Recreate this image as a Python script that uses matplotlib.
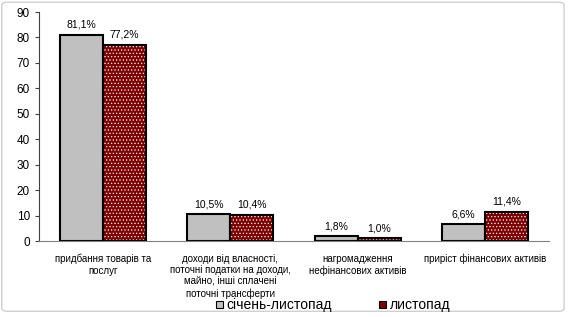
import matplotlib.pyplot as plt
import numpy as np
from matplotlib.patches import FancyBboxPatch, Rectangle

plt.rcParams['font.family'] = ['Liberation Sans', 'DejaVu Sans']
plt.rcParams['hatch.linewidth'] = 0.5

categories = ['придбання товарів та\nпослуг',
              'доходи від власності,\nпоточні податки на доходи,\nмайно, інші сплачені\nпоточні трансферти',
              'нагромадження\nнефінансових активів',
              'приріст фінансових активів']
jan_nov = [81.1, 10.5, 1.8, 6.6]
nov = [77.2, 10.4, 1.0, 11.4]
labels_jan = ['81,1%', '10,5%', '1,8%', '6,6%']
labels_nov = ['77,2%', '10,4%', '1,0%', '11,4%']

fig = plt.figure(figsize=(5.71, 3.17), dpi=100)
fig.patches.append(FancyBboxPatch((0.003, 0.018), 0.985, 0.975, boxstyle='round,pad=0,rounding_size=0.01',
                                  transform=fig.transFigure, fill=False, edgecolor='#d0d0d0', lw=1))
ax = fig.add_axes([0.0683, 0.2397, 0.8932, 0.7223])

x = np.arange(len(categories))
w = 0.337
ax.bar(x - w / 2, jan_nov, w, color='#c0c0c0', edgecolor='black', lw=1.5, zorder=2)
ax.bar(x + w / 2, nov, w, color='#800000', edgecolor='white', hatch='.....', lw=0, zorder=2)
ax.bar(x + w / 2, nov, w, fill=False, edgecolor='black', lw=1.5, zorder=3)

for i in range(len(categories)):
    ax.text(x[i] - w / 2, jan_nov[i] + 2.0, labels_jan[i], ha='center', va='bottom', fontsize=7.5)
    ax.text(x[i] + w / 2, nov[i] + 2.0, labels_nov[i], ha='center', va='bottom', fontsize=7.5)

ax.set_xlim(-0.5, 3.5)
ax.set_ylim(0, 90)
ax.set_yticks(range(0, 91, 10))
ax.tick_params(axis='y', labelsize=8.5, length=3, width=0.8, colors='#404040')
ax.tick_params(axis='y', labelcolor='black')
ax.set_xticks(x)
ax.set_xticklabels(categories, fontsize=7, linespacing=1.2)
ax.tick_params(axis='x', length=0, pad=9)
for s in ['top', 'right']:
    ax.spines[s].set_visible(False)
ax.spines['left'].set_color('#404040')
ax.spines['bottom'].set_color('#808080')

# legend
fig.patches.append(Rectangle((216 / 571, 1 - 308 / 317), 7 / 571, 7 / 317, transform=fig.transFigure,
                             facecolor='#c0c0c0', edgecolor='black', lw=0.8))
fig.text(226 / 571, 1 - 305 / 317, 'січень-листопад', fontsize=10, va='center')
fig.patches.append(Rectangle((379 / 571, 1 - 308 / 317), 7 / 571, 7 / 317, transform=fig.transFigure,
                             facecolor='#800000', edgecolor='black', lw=0.8))
fig.text(390 / 571, 1 - 305 / 317, 'листопад', fontsize=10, va='center')

fig.savefig('out.png', dpi=100)
